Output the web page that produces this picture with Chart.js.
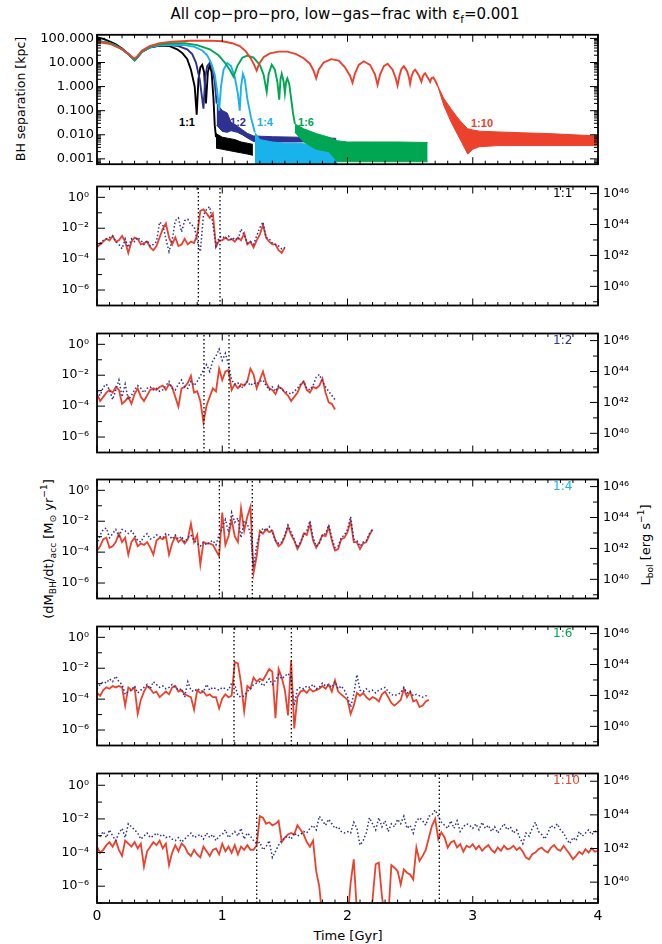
<!DOCTYPE html>
<html>
<head>
<meta charset="utf-8">
<script src="https://cdn.jsdelivr.net/npm/chart.js@4.4.1/dist/chart.umd.min.js"></script>
<style>
  html, body { margin: 0; padding: 0; background: #fff; }
  body { position: relative; width: 662px; height: 944px; overflow: hidden; font-family: "DejaVu Sans", sans-serif; color: #000; }
  canvas { position: absolute; left: 0; }
  .txt { position: absolute; white-space: nowrap; line-height: 1; }
  .mid { transform: translate(-50%, -50%); }
  .rot { transform: translate(-50%, -50%) rotate(-90deg); }
  .tag { font-size: 12px; transform: translateY(-50%); }
  .mini { font-family: "Liberation Sans", sans-serif; font-weight: bold; font-size: 11px; transform: translate(-50%, -50%); }
  sub, sup { font-size: 70%; line-height: 0; }
</style>
</head>
<body>
<div class="txt mid" style="left:345px;top:14px;font-size:15px">All cop−pro−pro, low−gas−frac with ε<sub>f</sub>=0.001</div>
<div class="txt rot" style="left:21px;top:99px;font-size:12.5px">BH separation [kpc]</div>
<div class="txt rot" style="left:48px;top:549px;font-size:13px">(dM<sub>BH</sub>/dt)<sub>acc</sub> [M<sub>⊙</sub> yr<sup>−1</sup>]</div>
<div class="txt rot" style="left:645px;top:545px;font-size:13px">L<sub>bol</sub> [erg s<sup>−1</sup>]</div>
<div class="txt mid" style="left:348px;top:935px;font-size:13px">Time [Gyr]</div>
<div class="txt mini" style="left:187px;top:122px;color:#000">1:1</div>
<div class="txt mini" style="left:238px;top:122px;color:#2e3192">1:2</div>
<div class="txt mini" style="left:265px;top:122px;color:#1ab2ea">1:4</div>
<div class="txt mini" style="left:306px;top:122px;color:#00a651">1:6</div>
<div class="txt mini" style="left:482px;top:123px;color:#eb412d">1:10</div>
<script>
// ---- colours
const BLACK = '#000000';
const NAVY = '#2e3192';
const LIGHTBLUE = '#1ab2ea';
const GREEN = '#00a651';
const RED = '#eb412d';

// ---- BH separation panel (log10 kpc)
const sepBlackT = [0,0.05,0.1,0.15,0.2,0.25,0.28,0.3,0.32,0.36,0.42,0.5,0.58,0.64,0.68,0.72,0.75,0.78,0.796,0.81,0.825,0.84,0.855,0.87,0.885,0.9,0.915,0.93,0.94,0.95];
const sepBlackLog = [2.05,1.98,1.88,1.75,1.58,1.35,1.2,1.1,1.2,1.45,1.62,1.7,1.68,1.55,1.4,1.15,0.7,0,-1.17,0.3,0.8,0.9,0.6,-0.7,0.6,0.9,0.6,-0.5,-1.6,-2.1];
const bandBlackT = [0.95,1.0,1.05,1.1,1.15,1.2,1.245];
const bandBlackHi = [-1.95,-2.1,-2.15,-2.2,-2.3,-2.35,-2.4];
const bandBlackLo = [-2.55,-2.6,-2.65,-2.7,-2.75,-2.8,-2.85];

const sepNavyT = [0,0.05,0.1,0.15,0.2,0.25,0.28,0.3,0.32,0.36,0.42,0.5,0.58,0.65,0.72,0.76,0.79,0.82,0.85,0.865,0.88,0.9,0.92,0.94,0.955];
const sepNavyLog = [1.88,1.85,1.8,1.7,1.55,1.35,1.2,1.1,1.2,1.45,1.63,1.7,1.72,1.68,1.55,1.35,1.0,0.3,-0.92,0.4,0.85,0.98,0.8,0.2,-0.7];
const bandNavyT = [0.955,1.0,1.04,1.07,1.12,1.16,1.2,1.25,1.4,1.6,1.8,1.91];
const bandNavyHi = [-0.7,-0.99,-1.1,-1.48,-1.64,-1.79,-1.94,-2.05,-2.08,-2.1,-2.12,-2.15];
const bandNavyLo = [-1.6,-1.86,-1.9,-1.83,-1.9,-2.0,-2.13,-2.28,-2.3,-2.3,-2.28,-2.3];

const sepLightT = [0,0.05,0.1,0.15,0.2,0.25,0.28,0.3,0.32,0.36,0.42,0.5,0.6,0.7,0.78,0.84,0.88,0.91,0.94,0.96,0.975,0.99,1.01,1.04,1.07,1.1,1.125,1.14,1.15,1.165,1.18,1.2,1.23,1.26];
const sepLightLog = [1.88,1.85,1.8,1.7,1.55,1.35,1.2,1.08,1.2,1.45,1.63,1.72,1.74,1.72,1.65,1.5,1.3,1.0,0.5,-0.2,-1.0,0.0,0.7,0.98,0.85,0.4,-0.3,-1.0,0.0,0.53,0.3,-0.5,-1.3,-1.9];
const bandLightT = [1.26,1.3,1.4,1.5,1.6,1.7,1.8,1.92];
const bandLightHi = [-1.9,-2.2,-2.3,-2.35,-2.35,-2.4,-2.4,-2.45];
const bandLightLo = [-3.5,-3.5,-3.5,-3.5,-3.5,-3.5,-3.5,-3.5];

const sepGreenT = [0,0.05,0.1,0.15,0.2,0.25,0.28,0.3,0.32,0.36,0.42,0.5,0.6,0.7,0.8,0.9,0.97,1.02,1.06,1.09,1.12,1.16,1.2,1.25,1.3,1.33,1.355,1.37,1.395,1.42,1.44,1.455,1.465,1.475,1.49,1.5,1.51,1.52,1.535,1.55,1.565,1.58];
const sepGreenLog = [1.88,1.85,1.8,1.7,1.55,1.35,1.2,1.1,1.2,1.45,1.65,1.76,1.8,1.8,1.72,1.55,1.3,1.0,0.7,0.41,0.85,1.2,1.29,1.2,0.9,0.5,-0.22,0.5,0.91,0.7,0.2,-0.54,0.3,0.53,0.2,-0.28,0.2,0.34,0.1,-0.5,-1.1,-1.55];
const bandGreenT = [1.58,1.65,1.75,1.85,1.92,2.0,2.2,2.4,2.64];
const bandGreenHi = [-1.55,-1.75,-1.95,-2.1,-2.25,-2.3,-2.3,-2.3,-2.32];
const bandGreenLo = [-1.9,-2.3,-2.6,-2.7,-3.12,-3.12,-3.12,-3.12,-3.12];

const sepRedT = [0,0.1,0.2,0.25,0.28,0.3,0.32,0.36,0.42,0.5,
  0.6,0.75,0.9,1.0,1.08,1.14,1.19,1.23,1.255,1.275,
  1.295,1.33,1.38,1.45,1.52,1.59,1.65,1.7,1.73,1.75,
  1.77,1.81,1.87,1.93,1.98,2.02,2.04,2.06,2.09,2.13,
  2.18,2.22,2.24,2.26,2.29,2.32,2.36,2.385,2.40,2.415,
  2.43,2.45,2.475,2.49,2.50,2.51,2.525,2.54,2.56,2.575,
  2.59,2.60,2.61,2.62,2.635,2.65,2.66,2.67,2.685,2.7,2.72];
const sepRedLog = [1.85,1.78,1.55,1.35,1.22,1.17,1.25,1.5,1.68,1.8,
  1.86,1.9,1.91,1.88,1.8,1.68,1.45,1.15,0.9,0.66,
  0.95,1.22,1.38,1.45,1.45,1.35,1.18,0.95,0.65,0.34,
  0.7,1.0,1.14,1.08,0.8,0.45,0.155,0.55,0.9,1.05,
  0.9,0.5,0.07,0.5,0.85,0.95,0.7,0.35,0.05,0.45,
  0.72,0.85,0.65,0.4,0.12,0.4,0.62,0.7,0.55,0.4,
  0.2,0.4,0.5,0.55,0.42,0.3,0.2,0.35,0.38,0.25,0.03];
const bandRedT = [2.72,2.77,2.83,2.88,2.93,2.96,3.0,3.05,3.2,3.4,3.6,3.8,4.0];
const bandRedHi = [0.03,-0.5,-0.95,-1.3,-1.6,-1.75,-1.8,-1.85,-1.88,-1.92,-1.95,-2.0,-2.05];
const bandRedLo = [0.03,-0.8,-1.5,-2.0,-2.5,-2.8,-2.6,-2.5,-2.45,-2.45,-2.45,-2.45,-2.45];

// ---- accretion rate panels (log10 Msun/yr), sampled every 0.025 Gyr from t=0
const sampleStep = 0.025;

const acc11Red = [-3.24,-3.05,-2.87,-2.69,-2.78,-2.5,-2.87,-2.78,-2.5,-2.87,-3.6,-2.87,-2.6,
  -2.69,-3.05,-2.96,-2.87,-3.24,-3.42,-3.15,-2.6,-2.05,-1.69,-2.6,-3.05,
  -2.6,-3.15,-3.05,-2.69,-3.05,-2.87,-2.96,-2.42,-0.87,-0.78,-1.05,-1.33,
  -1.05,-3.2,-2.78,-2.78,-2.6,-2.78,-2.69,-2.87,-2.6,-2.78,-2.33,-3.05,
  -2.87,-3.24,-2.78,-2.42,-1.78,-2.6,-2.87,-3.05,-3.05,-3.42,-3.6,-3.24];
const acc11Blue = [-3.15,-2.96,-2.78,-2.69,-2.6,-2.5,-2.87,-3.05,-3.33,-2.69,-3.24,-2.69,-2.87,
  -2.6,-2.78,-3.05,-2.78,-3.15,-3.05,-2.87,-1.6,-1.78,-2.69,-3.51,-2.78,
  -1.51,-1.33,-2.24,-1.51,-1.42,-1.78,-1.87,-2.78,-3.51,-1.15,-0.78,-0.6,
  -1.69,-3.15,-2.6,-2.5,-2.69,-2.5,-2.78,-2.6,-2.78,-2.05,-2.42,-2.96,
  -2.87,-3.05,-2.5,-1.96,-1.6,-2.6,-2.69,-2.96,-3.05,-3.15,-3.33,-3.24];
const events11 = [0.809, 0.982];

const acc12Red = [-3.22,-3.67,-3.4,-3.13,-2.95,-3.13,-2.76,-2.95,-3.85,-3.67,-3.4,-3.85,-3.22,
  -2.85,-3.4,-3.67,-3.31,-2.95,-2.85,-2.95,-2.76,-2.67,-2.95,-2.58,-2.76,
  -3.4,-4.04,-2.85,-2.76,-2.49,-2.04,-3.13,-3.04,-3.67,-5.04,-3.95,-3.4,
  -2.85,-3.04,-1.58,-2.31,-1.76,-1.67,-2.95,-2.58,-2.85,-2.58,-2.67,-2.4,
  -1.58,-1.95,-2.85,-2.31,-1.76,-2.49,-2.85,-2.95,-3.22,-2.76,-2.85,-3.13,
  -3.31,-3.67,-3.4,-3.13,-2.67,-2.4,-2.95,-3.13,-2.76,-2.85,-2.67,-2.22,
  -3.13,-3.76,-3.85,-4.22];
const acc12Blue = [-3.04,-3.31,-2.76,-2.58,-2.95,-3.58,-2.95,-2.31,-3.4,-2.58,-3.58,-3.31,-2.95,
  -2.67,-2.85,-3.13,-2.85,-2.76,-2.95,-2.85,-3.04,-2.95,-2.67,-2.4,-2.85,
  -2.95,-2.58,-2.31,-2.76,-2.85,-2.4,-2.67,-2.4,-2.04,-1.67,-1.31,-1.76,
  -1.04,-0.76,-0.31,-1.04,-0.58,-1.31,-2.31,-2.58,-2.49,-2.85,-2.67,-2.4,
  -2.67,-2.49,-2.58,-2.4,-2.31,-2.67,-2.95,-2.76,-3.04,-2.67,-2.95,-3.04,
  -3.13,-3.22,-3.04,-2.85,-2.58,-2.4,-2.85,-2.95,-2.67,-2.13,-1.95,-2.4,
  -2.76,-3.04,-3.31,-3.58];
const events12 = [0.854, 1.054];

const acc14Red = [-3.89,-3.62,-3.16,-3.07,-3.71,-3.62,-3.35,-2.8,-3.35,-3.07,-4.16,-3.35,-3.07,
  -3.62,-3.44,-3.53,-3.35,-3.71,-4.16,-3.25,-3.07,-3.16,-2.98,-4.16,-3.44,
  -2.98,-3.35,-3.16,-3.44,-3.16,-2.16,-3.35,-2.89,-4.8,-3.35,-3.44,-3.44,
  -3.53,-3.89,-4.25,-1.44,-3.53,-2.98,-1.89,-2.98,-3.35,-1.16,-2.62,-1.71,
  -1.07,-5.35,-4.25,-2.62,-2.8,-2.53,-2.71,-2.62,-3.25,-3.62,-3.44,-2.98,
  -2.35,-2.89,-3.25,-3.8,-3.44,-2.8,-2.89,-2.16,-3.25,-3.71,-3.35,-2.89,
  -2.98,-2.35,-3.25,-3.89,-3.8,-3.16,-3.07,-2.71,-1.98,-3.35,-3.35,-3.8,
  -3.44,-3.35,-2.89,-2.53];
const acc14Blue = [-3.53,-2.89,-2.53,-2.44,-3.07,-2.8,-2.53,-2.98,-2.53,-2.62,-2.8,-2.62,-2.89,
  -3.25,-3.35,-2.98,-2.8,-3.16,-3.07,-2.89,-2.98,-3.07,-2.8,-2.89,-3.16,
  -2.89,-3.16,-2.98,-3.35,-3.07,-2.89,-3.25,-3.44,-3.62,-3.35,-3.53,-3.35,
  -3.25,-3.53,-2.89,-2.44,-1.89,-2.71,-1.44,-2.07,-1.8,-3.07,-1.98,-2.16,
  -2.8,-4.98,-3.53,-2.89,-2.44,-2.62,-2.35,-2.71,-3.25,-3.44,-3.35,-2.89,
  -2.25,-2.71,-3.16,-3.71,-3.35,-2.89,-2.62,-1.98,-3.07,-3.62,-3.44,-2.89,
  -2.8,-2.25,-3.07,-3.71,-3.62,-3.07,-2.89,-2.53,-1.71,-3.16,-3.25,-3.62,
  -3.35,-3.25,-2.8,-2.53];
const events14 = [0.977, 1.24];

const acc16Red = [-3.6,-3.78,-3.42,-3.24,-3.33,-3.15,-3.24,-3.15,-3.24,-4.42,-3.24,-3.42,-3.24,
  -4.96,-4.05,-3.51,-3.15,-3.33,-3.6,-3.51,-3.87,-3.69,-3.51,-3.69,-3.24,
  -3.15,-3.51,-3.42,-3.69,-3.78,-3.87,-4.69,-3.42,-3.6,-3.51,-3.78,-3.69,
  -3.87,-3.87,-4.6,-3.96,-3.69,-3.87,-3.78,-1.6,-1.69,-2.96,-4.78,-3.15,
  -3.33,-2.6,-2.87,-2.69,-2.78,-2.42,-2.05,-2.24,-5.24,-2.05,-2.6,-3.42,
  -5.05,-1.51,-5.9,-3.87,-3.51,-3.42,-3.6,-3.33,-3.51,-3.42,-3.33,-3.15,
  -3.33,-3.05,-3.51,-2.78,-3.51,-3.69,-3.87,-4.05,-4.96,-4.42,-3.6,-3.78,
  -3.6,-3.87,-4.05,-3.87,-3.96,-4.15,-3.69,-3.51,-3.87,-4.24,-4.42,-4.24,
  -4.05,-3.33,-3.87,-3.51,-4.15,-4.05,-4.51,-4.42,-4.15,-4.05];
const acc16Blue = [-3.33,-3.05,-2.87,-2.96,-2.69,-2.87,-2.51,-2.87,-3.05,-3.69,-3.51,-3.42,-3.15,
  -3.6,-3.42,-3.24,-3.05,-3.33,-2.87,-3.05,-3.24,-3.15,-3.33,-3.24,-3.05,
  -3.24,-3.42,-3.33,-3.87,-2.87,-3.42,-3.51,-3.33,-3.42,-3.51,-3.05,-3.42,
  -3.24,-3.33,-3.42,-3.24,-3.33,-3.42,-2.96,-3.05,-3.78,-3.87,-3.78,-3.51,
  -3.33,-3.05,-2.96,-2.87,-3.15,-2.96,-2.69,-3.05,-2.78,-2.42,-2.69,-2.51,
  -2.33,-2.69,-4.42,-3.33,-3.24,-3.33,-3.15,-3.24,-3.05,-3.33,-3.24,-2.96,
  -3.15,-3.05,-3.24,-2.87,-3.33,-3.15,-3.42,-3.87,-4.51,-3.69,-2.42,-3.42,
  -3.51,-3.33,-3.51,-3.42,-3.6,-3.42,-3.33,-3.24,-3.51,-3.69,-3.78,-3.69,
  -3.6,-3.24,-3.6,-3.51,-3.78,-3.69,-3.78,-3.87,-3.78,-3.87];
const events16 = [1.094, 1.552];

const acc110Red = [-3.65,-4.02,-3.84,-3.56,-3.38,-3.65,-3.29,-3.84,-4.2,-3.29,-3.47,-3.65,-3.38,
  -3.75,-3.47,-4.84,-3.93,-3.65,-3.38,-3.56,-3.29,-3.75,-3.47,-4.75,-4.02,
  -3.56,-3.93,-3.47,-3.65,-4.02,-4.2,-3.84,-4.11,-4.29,-3.65,-3.93,-4.2,
  -3.84,-3.75,-4.11,-3.47,-3.93,-3.65,-4.02,-3.56,-4.11,-3.65,-3.84,-3.56,
  -3.84,-3.84,-3.56,-1.84,-1.93,-2.29,-2.2,-2.38,-2.29,-2.11,-3.38,-3.11,
  -2.93,-2.84,-2.93,-2.38,-2.65,-2.93,-3.38,-3.65,-3.29,-5.11,-6.02,-8,
  -8,-8,-8,-8,-8,-8,-8,-8,-5.8,-4.4,-7.5,-8,
  -8,-8,-8,-6.8,-4.7,-4.6,-6.6,-8,-8,-4.75,-4.9,-5.1,
  -5.9,-5.0,-5.2,-5.3,-5.6,-3.7,-4.5,-4.2,-3.85,-3.1,-2.4,-2.0,
  -3.2,-2.8,-3.1,-3.7,-3.4,-3.3,-3.7,-3.5,-3.95,-3.6,-3.7,-3.5,
  -3.8,-3.6,-3.9,-3.7,-3.55,-3.85,-4.0,-3.7,-3.9,-3.6,-3.8,-3.75,
  -3.6,-3.85,-3.7,-3.95,-4.3,-4.4,-4.1,-4.0,-3.8,-3.7,-3.9,-4.0,
  -3.7,-3.55,-3.8,-3.9,-3.6,-3.85,-4.1,-4.4,-4.2,-3.95,-4.1,-3.8,
  -4.0,-3.75,-3.95,-3.9];
const acc110Blue = [-2.84,-3.02,-2.75,-3.11,-2.65,-3.02,-3.29,-2.84,-2.56,-3.11,-2.29,-2.47,-2.65,
  -2.84,-3.2,-3.02,-2.84,-3.11,-3.02,-2.84,-3.02,-2.93,-3.11,-3.02,-3.2,
  -3.29,-3.11,-3.38,-3.2,-3.02,-2.84,-3.11,-3.02,-2.93,-3.2,-2.84,-3.11,
  -2.93,-3.29,-3.02,-2.93,-2.65,-3.11,-2.93,-2.75,-3.02,-2.56,-3.2,-2.84,
  -3.02,-3.29,-3.47,-3.38,-3.84,-3.65,-3.29,-4.29,-3.93,-3.56,-3.29,-3.11,
  -3.02,-3.2,-2.84,-3.02,-2.93,-2.75,-2.84,-2.56,-2.38,-2.65,-1.84,-2.11,
  -2.38,-2.02,-2.29,-2.56,-2.47,-2.75,-2.84,-2.75,-2.84,-2.2,-2.56,-3.56,
  -3.29,-2.84,-1.93,-2.29,-2.65,-1.93,-2.47,-2.11,-2.75,-2.29,-2.47,-2.02,
  -2.29,-1.84,-2.56,-2.38,-2.84,-2.11,-1.93,-2.11,-2.38,-1.84,-1.75,-1.47,
  -1.84,-2.2,-2.38,-2.56,-2.11,-2.56,-2.11,-2.75,-2.47,-2.29,-2.38,-2.56,
  -2.29,-2.65,-2.2,-2.56,-2.38,-2.75,-2.47,-2.84,-2.56,-2.29,-2.65,-2.47,
  -2.84,-2.65,-3.11,-3.47,-2.84,-3.02,-2.56,-2.2,-2.75,-2.93,-3.2,-2.84,
  -2.38,-2.56,-2.29,-2.65,-2.84,-3.2,-3.47,-3.11,-3.29,-2.75,-3.02,-2.84,
  -2.65,-2.93,-2.75,-2.65];
const events110 = [1.275, 2.733];

// ---- axes
const sepTickExps = [2, 1, 0, -1, -2, -3];
const accTickExps = [0, -2, -4, -6];
const lbolTickExps = [46, 44, 42, 40];
const timeTickLabels = [0, 1, 2, 3, 4];
const SEP_RANGE = [-3.19, 2.15];
const ACC_RANGE = [-7, 0.7];
const LBOL_SHIFT = 45.76; // log10 of erg/s per Msun/yr

const SUP = { '-': '⁻', '0': '⁰', '1': '¹', '2': '²', '3': '³', '4': '⁴', '5': '⁵', '6': '⁶', '7': '⁷', '8': '⁸', '9': '⁹' };
const sup = (n) => String(n).split('').map((c) => SUP[c]).join('');
const p10 = (e) => Math.pow(10, e);

const toPoints = (logs) => logs.map((v, i) => ({ x: i * sampleStep, y: p10(v) }));
const pairPoints = (times, logs) => times.map((t, i) => ({ x: t, y: p10(logs[i]) }));

Chart.defaults.font.family = '"DejaVu Sans", sans-serif';
Chart.defaults.color = '#000';

// inward IDL-style ticks and the box
const timeMarks = [];
for (let k = 0; k <= 40; k++) timeMarks.push([k / 10, k % 10 === 0 ? 7 : 3.5]);

const frameTicks = {
  id: 'frameTicks',
  afterDatasetsDraw(chart, args, opts) {
    const { ctx, chartArea: a, scales } = chart;
    ctx.save();
    ctx.strokeStyle = '#000';
    ctx.lineWidth = 1;
    ctx.beginPath();
    timeMarks.forEach(([t, len]) => {
      const px = scales.x.getPixelForValue(t);
      ctx.moveTo(px, a.bottom); ctx.lineTo(px, a.bottom - len);
      ctx.moveTo(px, a.top); ctx.lineTo(px, a.top + len);
    });
    const side = (list, x0, dir) => (list || []).forEach(([id, v, len]) => {
      const s = scales[id];
      if (v < s.min || v > s.max) return;
      const py = s.getPixelForValue(v);
      ctx.moveTo(x0, py); ctx.lineTo(x0 + dir * len, py);
    });
    side(opts.left, a.left, 1);
    side(opts.right, a.right, -1);
    ctx.stroke();
    ctx.lineWidth = 1.8;
    ctx.strokeRect(a.left, a.top, a.right - a.left, a.bottom - a.top);
    ctx.restore();
  }
};

function addCanvas(top, height) {
  const c = document.createElement('canvas');
  c.width = 662; c.height = height;
  c.style.top = top + 'px';
  c.style.width = '662px'; c.style.height = height + 'px';
  document.body.appendChild(c);
  return c;
}

const noGrid = { display: false, drawTicks: false };
const tickFont = { size: 12.5 };

function xScale(show) {
  const s = {
    type: 'linear', min: 0, max: 4, display: show,
    grid: noGrid, border: { display: false },
    afterBuildTicks: (sc) => { sc.ticks = timeTickLabels.map((v) => ({ value: v })); },
    ticks: { padding: 5, font: { size: 14 }, maxRotation: 0, callback: (v) => String(v) }
  };
  if (show) s.afterFit = (sc) => { sc.height = 41; };
  return s;
}

// ---- top panel
const sepLine = (t, l, color) => ({ data: pairPoints(t, l), borderColor: color, borderWidth: 1.9, pointRadius: 0, fill: false, tension: 0 });
const sepBand = (t, hi, lo, color) => [
  { data: pairPoints(t, hi), borderColor: color, backgroundColor: color, borderWidth: 1, pointRadius: 0, fill: '+1', tension: 0 },
  { data: pairPoints(t, lo), borderColor: color, borderWidth: 1, pointRadius: 0, fill: false, tension: 0 }
];

const sepMarks = [];
for (let e = -4; e <= 2; e++) {
  for (let m = 1; m <= 9; m++) {
    const len = m === 1 ? 8 : 4;
    sepMarks.push(['y', m * p10(e), len]);
  }
}

new Chart(addCanvas(24, 151), {
  type: 'line',
  data: {
    datasets: [
      sepLine(sepRedT, sepRedLog, RED), ...sepBand(bandRedT, bandRedHi, bandRedLo, RED),
      sepLine(sepGreenT, sepGreenLog, GREEN), ...sepBand(bandGreenT, bandGreenHi, bandGreenLo, GREEN),
      sepLine(sepLightT, sepLightLog, LIGHTBLUE), ...sepBand(bandLightT, bandLightHi, bandLightLo, LIGHTBLUE),
      sepLine(sepNavyT, sepNavyLog, NAVY), ...sepBand(bandNavyT, bandNavyHi, bandNavyLo, NAVY),
      sepLine(sepBlackT, sepBlackLog, BLACK), ...sepBand(bandBlackT, bandBlackHi, bandBlackLo, BLACK)
    ]
  },
  options: {
    responsive: false, animation: false, events: [],
    layout: { padding: { top: 5, bottom: 5, left: 0, right: 64 }, autoPadding: false },
    plugins: { legend: { display: false }, tooltip: { enabled: false },
      frameTicks: { left: sepMarks, right: sepMarks } },
    scales: {
      x: xScale(false),
      y: {
        type: 'logarithmic', position: 'left', min: p10(SEP_RANGE[0]), max: p10(SEP_RANGE[1]),
        grid: noGrid, border: { display: false },
        afterBuildTicks: (s) => { s.ticks = sepTickExps.map((e) => ({ value: p10(e) })); },
        ticks: { padding: 3, font: { size: 13 }, callback: (v) => v.toFixed(3) },
        afterFit: (s) => { s.width = 97; }
      }
    }
  },
  plugins: [frameTicks]
});

// ---- accretion panels
const accMarksL = [], accMarksR = [];
for (let e = -8; e <= 1; e++) accMarksL.push(['y', p10(e), e % 2 === 0 ? 8 : 5]);
for (let e = 38; e <= 47; e++) accMarksR.push(['y2', p10(e), e % 2 === 0 ? 8 : 5]);

const panels = [
  { red: acc11Red, blue: acc11Blue, events: events11, name: '1:1', color: BLACK },
  { red: acc12Red, blue: acc12Blue, events: events12, name: '1:2', color: NAVY },
  { red: acc14Red, blue: acc14Blue, events: events14, name: '1:4', color: LIGHTBLUE },
  { red: acc16Red, blue: acc16Blue, events: events16, name: '1:6', color: GREEN },
  { red: acc110Red, blue: acc110Blue, events: events110, name: '1:10', color: RED }
];
const panelTops = [176, 323, 469, 616, 763];
const panelHeight = 140;

panels.forEach((p, k) => {
  const last = k === panels.length - 1;
  const top = panelTops[k];
  const canvas = addCanvas(top - 5, 5 + panelHeight + (last ? 41 : 5));

  const tag = document.createElement('div');
  tag.className = 'txt tag';
  tag.style.left = '553px';
  tag.style.top = (top + 17) + 'px';
  tag.style.color = p.color;
  tag.textContent = p.name;
  document.body.appendChild(tag);

  const eventSets = p.events.map((t) => ({
    data: [{ x: t, y: p10(ACC_RANGE[0]) }, { x: t, y: p10(ACC_RANGE[1]) }],
    borderColor: '#000', borderWidth: 1.3, borderDash: [1.4, 2.6], pointRadius: 0, fill: false
  }));

  new Chart(canvas, {
    type: 'line',
    data: {
      datasets: [
        ...eventSets,
        { data: toPoints(p.blue), borderColor: NAVY, borderWidth: 1.5, borderDash: [1.5, 2.2], pointRadius: 0, fill: false, tension: 0 },
        { data: toPoints(p.red), borderColor: RED, borderWidth: 1.8, pointRadius: 0, fill: false, tension: 0 }
      ]
    },
    options: {
      responsive: false, animation: false, events: [],
      layout: { padding: { top: 5, bottom: last ? 0 : 5, left: 0, right: 0 }, autoPadding: false },
      plugins: { legend: { display: false }, tooltip: { enabled: false },
        frameTicks: { left: accMarksL, right: accMarksR } },
      scales: {
        x: xScale(last),
        y: {
          type: 'logarithmic', position: 'left', min: p10(ACC_RANGE[0]), max: p10(ACC_RANGE[1]),
          grid: noGrid, border: { display: false },
          afterBuildTicks: (s) => { s.ticks = accTickExps.map((e) => ({ value: p10(e) })); },
          ticks: { padding: 8, font: tickFont, callback: (v) => '10' + sup(Math.round(Math.log10(v))) },
          afterFit: (s) => { s.width = 97; }
        },
        y2: {
          type: 'logarithmic', position: 'right',
          min: p10(ACC_RANGE[0] + LBOL_SHIFT), max: p10(ACC_RANGE[1] + LBOL_SHIFT),
          grid: noGrid, border: { display: false },
          afterBuildTicks: (s) => { s.ticks = lbolTickExps.map((e) => ({ value: p10(e) })); },
          ticks: { padding: 5, font: tickFont, callback: (v) => '10' + sup(Math.round(Math.log10(v))) },
          afterFit: (s) => { s.width = 64; }
        }
      }
    },
    plugins: [frameTicks]
  });
});
</script>
</body>
</html>
